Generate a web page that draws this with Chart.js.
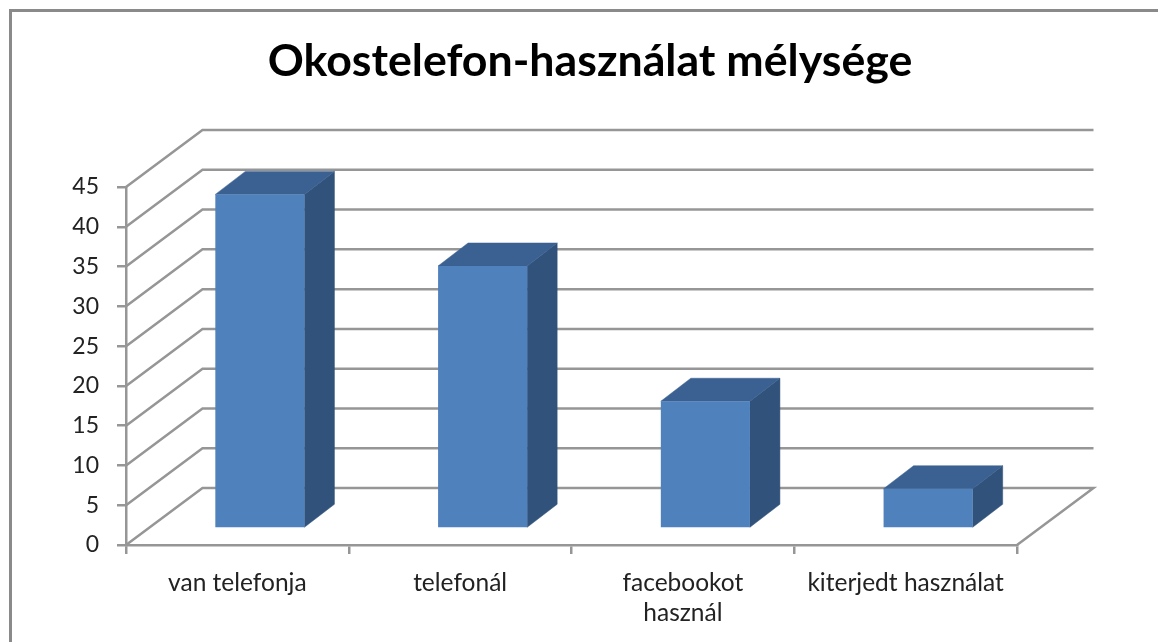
<!DOCTYPE html>
<html>
<head>
<meta charset="utf-8">
<script src="https://cdn.jsdelivr.net/npm/chart.js@4"></script>
<style>
    html, body { margin: 0; padding: 0; background: #fff; overflow: hidden; }
    #frame { position: absolute; left: 9px; top: 9px; width: 1149px; height: 633px; box-sizing: border-box;
             border-left: 3px solid #8a8a8a; border-top: 3px solid #8a8a8a; filter: blur(0.5px); }
    #chart { position: absolute; left: 22px; top: 0; filter: blur(0.5px); }
</style>
</head>
<body>
<div id="frame"></div>
<canvas id="chart" width="1136" height="642"></canvas>
<script>
// Chart values
const categories = ['van telefonja', 'telefonál', ['facebookot', 'használ'], 'kiterjedt használat'];
const values = [42, 33, 16, 5];
const chartTitle = 'Okostelefon-használat mélysége';

// 3D look
const wallDepth = { x: 76.5, y: -57 };
const barShift = { x: 22.5, y: -16.5 };
const barDepth = { x: 30, y: -23 };
const gridColor = '#969696';

function face(ctx, points, color) {
    ctx.fillStyle = color;
    ctx.strokeStyle = color;
    ctx.lineWidth = 0.5;
    ctx.beginPath();
    points.forEach((p, i) => i ? ctx.lineTo(p[0], p[1]) : ctx.moveTo(p[0], p[1]));
    ctx.closePath();
    ctx.fill();
    ctx.stroke();
}

const box3d = {
    id: 'box3d',
    // title is centred on the whole canvas, not on the box left of the padding
    afterLayout(chart) {
        chart.titleBlock.left = 0;
        chart.titleBlock.right = chart.width;
    },
    // back wall lines and floor
    beforeDatasetsDraw(chart) {
        const { ctx, chartArea, scales } = chart;
        ctx.save();
        ctx.strokeStyle = gridColor;
        ctx.lineWidth = 2.5;
        scales.y.ticks.forEach(t => {
            const y = scales.y.getPixelForValue(t.value);
            ctx.beginPath();
            ctx.moveTo(chartArea.left, y);
            ctx.lineTo(chartArea.left + wallDepth.x, y + wallDepth.y);
            ctx.lineTo(chartArea.right + wallDepth.x, y + wallDepth.y);
            if (t.value === 0) ctx.lineTo(chartArea.right, y);
            ctx.stroke();
        });
        ctx.restore();
    },
    // side and top of the bars, the front is the normal bar moved into the floor
    beforeDatasetDraw(chart, args) {
        const { ctx } = chart;
        ctx.save();
        ctx.translate(barShift.x, barShift.y);
        args.meta.data.forEach(bar => {
            const l = bar.x - bar.width / 2, r = bar.x + bar.width / 2;
            const dx = barDepth.x, dy = barDepth.y;
            face(ctx, [[r, bar.y], [r + dx, bar.y + dy], [r + dx, bar.base + dy], [r, bar.base]], '#31527a');
            face(ctx, [[l, bar.y], [l + dx, bar.y + dy], [r + dx, bar.y + dy], [r, bar.y]], '#3a6191');
        });
    },
    afterDatasetDraw(chart) {
        chart.ctx.restore();
    }
};

new Chart(document.getElementById('chart').getContext('2d'), {
    type: 'bar',
    data: {
        labels: categories,
        datasets: [{
            data: values,
            backgroundColor: '#4f81bd',
            borderWidth: 0,
            barPercentage: 0.4,
            categoryPercentage: 1,
            clip: false
        }]
    },
    options: {
        responsive: false,
        animation: false,
        layout: { padding: { left: 0, right: 141, top: 0, bottom: 0 } },
        plugins: {
            legend: { display: false },
            tooltip: { enabled: false },
            title: {
                display: true,
                text: chartTitle,
                color: '#000',
                font: { family: 'Lato', size: 44.7, weight: 'bold', lineHeight: 1.2 },
                padding: { top: 35, bottom: 98.4 }
            }
        },
        scales: {
            x: {
                afterFit(scale) { scale.height = 97; },
                grid: { drawOnChartArea: false, color: gridColor, lineWidth: 2.5, tickLength: 9 },
                border: { color: gridColor, width: 2.5 },
                ticks: {
                    color: '#222',
                    font: { family: 'Lato', size: 24.5, lineHeight: 1.22 },
                    padding: 14,
                    maxRotation: 0,
                    autoSkip: false
                }
            },
            y: {
                min: 0,
                max: 45,
                afterFit(scale) { scale.width = 104; },
                grid: { drawOnChartArea: false, color: gridColor, lineWidth: 2.5, tickLength: 9 },
                border: { color: gridColor, width: 2.5 },
                ticks: {
                    stepSize: 5,
                    color: '#222',
                    font: { family: 'Lato', size: 23 },
                    padding: 18
                }
            }
        }
    },
    plugins: [box3d]
});
</script>
</body>
</html>
